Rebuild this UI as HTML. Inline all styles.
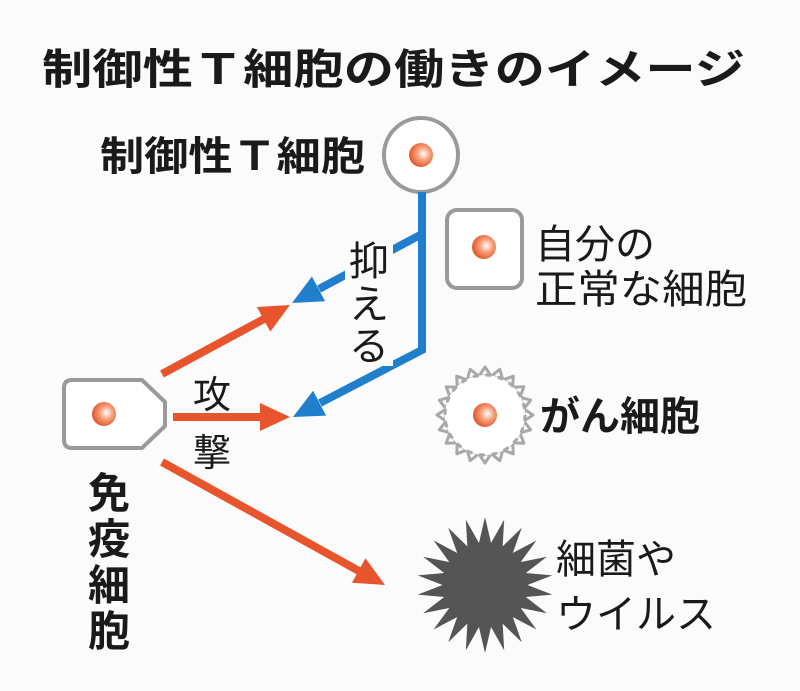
<!DOCTYPE html>
<html><head><meta charset="utf-8"><style>
html,body{margin:0;padding:0;background:#fbfbfb;}
svg{display:block;}
text{font-family:"Liberation Sans","Noto Sans CJK JP",sans-serif;fill:#1a1a1a;}
</style></head><body>
<svg width="800" height="691" viewBox="0 0 800 691" xmlns="http://www.w3.org/2000/svg">
<defs>
<radialGradient id="nuc" cx="0.6" cy="0.45" r="0.6">
<stop offset="0" stop-color="#fff"/><stop offset="0.45" stop-color="#f5a07a"/><stop offset="1" stop-color="#e2542a"/>
</radialGradient>
<polygon id="spk" points="-7,-38 0,-68 7,-38" fill="#555"/>
<polygon id="csp" points="-6,-39 0,-48 6,-39" fill="#fff" stroke="#a8a8a8" stroke-width="3" stroke-linejoin="round"/>
</defs>
<rect width="800" height="691" fill="#fbfbfb"/>
<text x="42" y="84" font-size="42" font-weight="bold" textLength="703" lengthAdjust="spacingAndGlyphs">制御性Ｔ細胞の働きのイメージ</text>
<text x="100" y="170" font-size="40" font-weight="bold" textLength="265" lengthAdjust="spacingAndGlyphs">制御性Ｔ細胞</text>
<circle cx="421" cy="155" r="37" fill="#fff" stroke="#9a9a9a" stroke-width="4"/>
<circle cx="421" cy="155" r="12" fill="url(#nuc)"/>
<!-- blue -->
<polyline points="422,192 422,350 320,403" fill="none" stroke="#1f7fcc" stroke-width="8"/>
<line x1="422" y1="234" x2="319" y2="289" stroke="#1f7fcc" stroke-width="8"/>
<polygon points="292,303 325.1,301.3 311.9,276.5" fill="#1f7fcc"/>
<polygon points="293,417 326.1,415.6 313.1,390.8" fill="#1f7fcc"/>
<rect x="345" y="236" width="48" height="130" fill="#fbfbfb"/>
<text x="369" y="275" font-size="40" text-anchor="middle">抑</text>
<text x="369" y="318" font-size="40" text-anchor="middle">え</text>
<text x="369" y="360" font-size="40" text-anchor="middle">る</text>
<!-- square -->
<rect x="447" y="210" width="75" height="78" rx="10" fill="#fff" stroke="#9a9a9a" stroke-width="4"/>
<circle cx="484" cy="247" r="12" fill="url(#nuc)"/>
<text x="535" y="258" font-size="40">自分の</text>
<text x="535" y="303" font-size="40" textLength="212" lengthAdjust="spacingAndGlyphs">正常な細胞</text>
<!-- immune -->
<path d="M72,380 H142 L165,402 V426 L142,448 H72 Q64,448 64,440 V388 Q64,380 72,380Z" fill="#fff" stroke="#9a9a9a" stroke-width="4" stroke-linejoin="round"/>
<circle cx="104" cy="414" r="12" fill="url(#nuc)"/>
<line x1="162" y1="374" x2="264" y2="319" stroke="#e8542c" stroke-width="8"/>
<polygon points="290,305 270.3,331.6 256.9,307" fill="#e8542c"/>
<line x1="173" y1="417" x2="262" y2="417" stroke="#e8542c" stroke-width="8"/>
<polygon points="290,417 260,403 260,431" fill="#e8542c"/>
<line x1="162" y1="462" x2="359" y2="571" stroke="#e8542c" stroke-width="8"/>
<polygon points="385,585 351.9,582.8 365.5,558.2" fill="#e8542c"/>
<text x="193" y="408" font-size="38">攻</text>
<text x="193" y="466" font-size="38">撃</text>
<text x="88" y="508" font-size="42" font-weight="bold">免</text>
<text x="88" y="554" font-size="42" font-weight="bold">疫</text>
<text x="88" y="600" font-size="42" font-weight="bold">細</text>
<text x="88" y="646" font-size="42" font-weight="bold">胞</text>
<!-- cancer -->
<g transform="translate(485,415)">
<use href="#csp" transform="rotate(0)"/><use href="#csp" transform="rotate(18)"/><use href="#csp" transform="rotate(36)"/><use href="#csp" transform="rotate(54)"/><use href="#csp" transform="rotate(72)"/><use href="#csp" transform="rotate(90)"/><use href="#csp" transform="rotate(108)"/><use href="#csp" transform="rotate(126)"/><use href="#csp" transform="rotate(144)"/><use href="#csp" transform="rotate(162)"/><use href="#csp" transform="rotate(180)"/><use href="#csp" transform="rotate(198)"/><use href="#csp" transform="rotate(216)"/><use href="#csp" transform="rotate(234)"/><use href="#csp" transform="rotate(252)"/><use href="#csp" transform="rotate(270)"/><use href="#csp" transform="rotate(288)"/><use href="#csp" transform="rotate(306)"/><use href="#csp" transform="rotate(324)"/><use href="#csp" transform="rotate(342)"/>
<circle r="40" fill="#fff" stroke="#a8a8a8" stroke-width="3" stroke-dasharray="6 6.57"/>
</g>
<circle cx="485" cy="415" r="12" fill="url(#nuc)"/>
<text x="540" y="430" font-size="40" font-weight="bold">がん細胞</text>
<!-- germ -->
<g transform="translate(485,585)">
<circle r="42" fill="#555"/>
<use href="#spk" transform="rotate(0)"/><use href="#spk" transform="rotate(16.36)"/><use href="#spk" transform="rotate(32.73)"/><use href="#spk" transform="rotate(49.09)"/><use href="#spk" transform="rotate(65.45)"/><use href="#spk" transform="rotate(81.82)"/><use href="#spk" transform="rotate(98.18)"/><use href="#spk" transform="rotate(114.55)"/><use href="#spk" transform="rotate(130.91)"/><use href="#spk" transform="rotate(147.27)"/><use href="#spk" transform="rotate(163.64)"/><use href="#spk" transform="rotate(180)"/><use href="#spk" transform="rotate(196.36)"/><use href="#spk" transform="rotate(212.73)"/><use href="#spk" transform="rotate(229.09)"/><use href="#spk" transform="rotate(245.45)"/><use href="#spk" transform="rotate(261.82)"/><use href="#spk" transform="rotate(278.18)"/><use href="#spk" transform="rotate(294.55)"/><use href="#spk" transform="rotate(310.91)"/><use href="#spk" transform="rotate(327.27)"/><use href="#spk" transform="rotate(343.64)"/>
</g>
<text x="556" y="573" font-size="40">細菌や</text>
<text x="556" y="628" font-size="40">ウイルス</text>
</svg>
</body></html>
